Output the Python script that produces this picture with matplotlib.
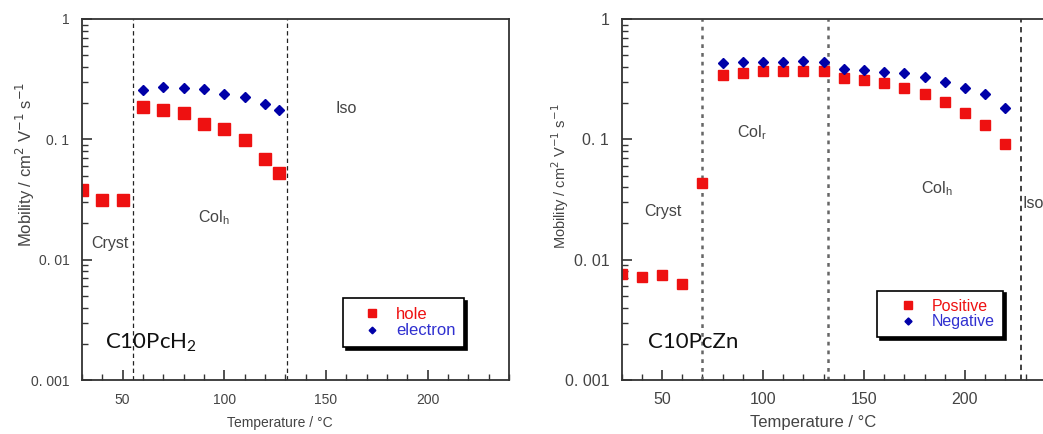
import matplotlib
matplotlib.use('Agg')
import matplotlib.pyplot as plt
from matplotlib.ticker import FixedLocator, NullFormatter, MultipleLocator

plt.rcParams['font.family'] = ['Liberation Sans', 'DejaVu Sans']

# ---------------- data ----------------
temp_h2_hole = [30, 40, 50, 60, 70, 80, 90, 100, 110, 120, 127]
hole = [0.038, 0.0315, 0.0315, 0.185, 0.174, 0.164, 0.135, 0.121, 0.099, 0.068, 0.053]
temp_h2_elec = [60, 70, 80, 90, 100, 110, 120, 127]
electron = [0.257, 0.272, 0.267, 0.26, 0.238, 0.224, 0.195, 0.174]

temp_zn_pos = [30, 40, 50, 60, 70, 80, 90, 100, 110, 120, 130, 140, 150, 160, 170, 180, 190, 200, 210, 220]
positive = [0.00755, 0.00713, 0.0074, 0.0063, 0.0436, 0.342, 0.354, 0.367, 0.367, 0.367, 0.367,
            0.321, 0.311, 0.294, 0.267, 0.238, 0.203, 0.166, 0.132, 0.092]
temp_zn_neg = [80, 90, 100, 110, 120, 130, 140, 150, 160, 170, 180, 190, 200, 210, 220]
negative = [0.434, 0.442, 0.442, 0.442, 0.445, 0.436, 0.384, 0.379, 0.363, 0.354, 0.330,
            0.302, 0.267, 0.238, 0.182]

transitions_h2 = [55, 131]
transitions_zn = [70, 132, 228]

ytick_vals = [0.001, 0.01, 0.1, 1]
ytick_labels = ['0. 001', '0. 01', '0. 1', '1']
xtick_vals = [50, 100, 150, 200]
xtick_labels = ['50', '100', '150', '200']

phases_h2 = [('Cryst', 43.5, 0.0137), ('Col$_\\mathregular{h}$', 95, 0.0222), ('Iso', 160, 0.182)]
phases_zn = [('Cryst', 50.5, 0.0249), ('Col$_\\mathregular{r}$', 94.7, 0.113), ('Col$_\\mathregular{h}$', 186, 0.0386),
             ('Iso', 228.5, 0.0295)]

RED = '#ee1111'
BLUE = '#0000a8'
GREY = '#444444'

fig = plt.figure(figsize=(10.43, 4.34), dpi=100)
axL = fig.add_axes([82 / 1043, 54 / 434, 427 / 1043, 361 / 434])
axR = fig.add_axes([621.7 / 1043, 54 / 434, 424 / 1043, 361 / 434])


def style(ax, tick_fs, xlab_fs, ylab_fs, xlab_pos, ylab_pos):
    ax.set_yscale('log')
    ax.set_xlim(30, 240)
    ax.set_ylim(0.001, 1)
    ax.yaxis.set_major_locator(FixedLocator(ytick_vals))
    ax.set_yticklabels(ytick_labels)
    minors = [m * 10.0 ** e for e in (-3, -2, -1) for m in range(2, 10)]
    ax.yaxis.set_minor_locator(FixedLocator(minors))
    ax.yaxis.set_minor_formatter(NullFormatter())
    ax.xaxis.set_major_locator(FixedLocator(xtick_vals))
    ax.set_xticklabels(xtick_labels)
    ax.xaxis.set_minor_locator(MultipleLocator(10))
    ax.tick_params(which='major', direction='in', length=7, width=1.2, colors='#333333',
                   labelcolor=GREY, labelsize=tick_fs, pad=9)
    ax.tick_params(which='minor', direction='in', length=4, width=1.0, colors='#333333')
    for s in ax.spines.values():
        s.set_color('#333333')
        s.set_linewidth(1.3)
    ax.set_xlabel('Temperature / °C', color=GREY, fontsize=xlab_fs)
    ax.set_ylabel('Mobility / cm$^2$ V$^{-1}$ s$^{-1}$', color=GREY, fontsize=ylab_fs)
    ax.xaxis.set_label_coords(*xlab_pos)
    ax.xaxis.label.set_va('center')
    ax.yaxis.set_label_coords(*ylab_pos)
    ax.yaxis.label.set_va('center')


style(axL, 10, 10, 12, (0.464, -0.119), (-0.1335, 0.596))
style(axR, 11.5, 12, 10.5, (0.451, -0.119), (-0.1455, 0.565))

# left panel
for t in transitions_h2:
    axL.axvline(t, color='#222222', lw=0.9, ls=(0, (3.5, 2.5)))
axL.plot(temp_h2_hole, hole, 's', color=RED, ms=8, mec=RED, label='hole')
axL.plot(temp_h2_elec, electron, 'D', color=BLUE, ms=5.2, mec=BLUE, label='electron')
for txt, x, y in phases_h2:
    axL.text(x, y, txt, ha='center', va='center', fontsize=11.5, color=GREY)
axL.text(41.5, 0.00205, 'C10PcH$_\\mathregular{2}$', fontsize=16, color='#111111', family='Lato',
         va='center', ha='left')
legL = axL.legend(loc='lower right', bbox_to_anchor=(0.895, 0.092), fontsize=12, frameon=True,
                  fancybox=False, shadow={'color': 'black', 'alpha': 1}, edgecolor='black',
                  handletextpad=0.2, borderpad=0.5, labelspacing=0.1, handlelength=2.5,
                  borderaxespad=0, markerscale=0.65)
legL.get_frame().set_linewidth(1.2)
for txt, c in zip(legL.get_texts(), [RED, '#3030d0']):
    txt.set_color(c)

# right panel
for i, t in enumerate(transitions_zn):
    if i < 2:
        axR.axvline(t, color='#666666', lw=1.8, ls=(0, (1.5, 2)))
    else:
        axR.axvline(t, color='#333333', lw=1.3, ls=(0, (3, 2.5)))
axR.plot(temp_zn_pos, positive, 's', color=RED, ms=7, mec=RED, label='Positive')
axR.plot(temp_zn_neg, negative, 'D', color=BLUE, ms=4.8, mec=BLUE, label='Negative')
for txt, x, y in phases_zn:
    ha = 'left' if txt == 'Iso' else 'center'
    axR.text(x, y, txt, ha=ha, va='center', fontsize=11.5, color=GREY)
axR.text(43, 0.00205, 'C10PcZn', fontsize=16, color='#111111', family='Lato', va='center', ha='left')
legR = axR.legend(loc='lower right', bbox_to_anchor=(0.899, 0.118), fontsize=11.5, frameon=True,
                  fancybox=False, shadow={'color': 'black', 'alpha': 1}, edgecolor='black',
                  handletextpad=0.1, borderpad=0.5, labelspacing=0.05, handlelength=2.85,
                  borderaxespad=0, markerscale=0.75)
legR.get_frame().set_linewidth(1.2)
for txt, c in zip(legR.get_texts(), [RED, '#3030d0']):
    txt.set_color(c)

fig.savefig('out.png', dpi=100)
